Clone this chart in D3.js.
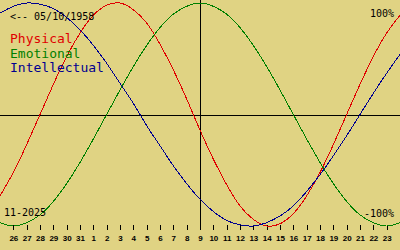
<!DOCTYPE html>
<html>
<head>
<meta charset="utf-8">
<script src="https://cdn.jsdelivr.net/npm/d3@7"></script>
<style>
  html, body { margin: 0; padding: 0; background: #e0d383; }
  svg { display: block; }
</style>
</head>
<body>
<script>
// SVG size
var svgWidth = 400;
var svgHeight = 250;

// Day labels, one extra day at each edge (Oct 25 .. Nov 24)
var dayLabels = ["25", "26", "27", "28", "29", "30", "31",
  "1", "2", "3", "4", "5", "6", "7", "8", "9", "10", "11", "12",
  "13", "14", "15", "16", "17", "18", "19", "20", "21", "22", "23", "24"];

// Index of the marked day (9)
var todayIndex = 15;

// Cycle values, -1 .. 1
var physical = [-0.73, -0.52, -0.27, 0.00, 0.27, 0.52, 0.73, 0.89, 0.98, 1.00,
  0.94, 0.82, 0.63, 0.40, 0.14, -0.14, -0.40, -0.63, -0.82, -0.94, -1.00,
  -0.98, -0.89, -0.73, -0.52, -0.27, 0.00, 0.27, 0.52, 0.73, 0.89];
var emotional = [-0.97, -1.00, -0.97, -0.90, -0.78, -0.62, -0.43, -0.22, 0.00,
  0.22, 0.43, 0.62, 0.78, 0.90, 0.97, 1.00, 0.97, 0.90, 0.78, 0.62, 0.43,
  0.22, 0.00, -0.22, -0.43, -0.62, -0.78, -0.90, -0.97, -1.00, -0.97];
var intellectual = [0.91, 0.97, 1.00, 0.99, 0.95, 0.87, 0.76, 0.62, 0.46, 0.28,
  0.10, -0.10, -0.28, -0.46, -0.62, -0.76, -0.87, -0.95, -0.99, -1.00, -0.97,
  -0.91, -0.82, -0.69, -0.54, -0.37, -0.19, 0.00, 0.19, 0.37, 0.54];

var seriesNames = ["Physical", "Emotional", "Intellectual"];
var seriesColors = ["#e00000", "#008000", "#000090"];
var series = [physical, emotional, intellectual];

var svg = d3.select("body")
  .append("svg")
  .attr("width", svgWidth)
  .attr("height", svgHeight);

// Scales
var xScale = d3.scaleLinear()
  .domain([0, dayLabels.length - 1])
  .range([0, svgWidth]);

var yScale = d3.scaleLinear()
  .domain([-1, 1])
  .range([226, 3]);

var px = function(v) { return Math.round(v) + 0.5; };

// Zero line
svg.append("line")
  .attr("x1", 0)
  .attr("x2", svgWidth)
  .attr("y1", px(yScale(0)))
  .attr("y2", px(yScale(0)))
  .attr("stroke", "#000")
  .attr("shape-rendering", "crispEdges");

// Today line
svg.append("line")
  .attr("x1", px(xScale(todayIndex)))
  .attr("x2", px(xScale(todayIndex)))
  .attr("y1", 0)
  .attr("y2", 230)
  .attr("stroke", "#000")
  .attr("shape-rendering", "crispEdges");

// Day ticks and labels (skip the edge days)
var tickDays = d3.range(1, dayLabels.length - 1);

svg.selectAll(".tick")
  .data(tickDays)
  .enter()
  .append("line")
  .attr("class", "tick")
  .attr("x1", d => px(xScale(d)))
  .attr("x2", d => px(xScale(d)))
  .attr("y1", 225)
  .attr("y2", 230)
  .attr("stroke", "#000")
  .attr("shape-rendering", "crispEdges");

svg.selectAll(".daylabel")
  .data(tickDays)
  .enter()
  .append("text")
  .attr("class", "daylabel")
  .attr("x", d => xScale(d) + 0.5)
  .attr("y", 241)
  .attr("text-anchor", "middle")
  .attr("font-family", "Liberation Sans, Arial, sans-serif")
  .attr("font-weight", "bold")
  .attr("font-size", 8)
  .attr("fill", "#000")
  .text(d => dayLabels[d]);

// Cycle curves
var line = d3.line()
  .x((d, i) => xScale(i))
  .y(d => yScale(d))
  .curve(d3.curveNatural);

svg.selectAll(".cycle")
  .data(series)
  .enter()
  .append("path")
  .attr("class", "cycle")
  .attr("d", line)
  .attr("fill", "none")
  .attr("stroke", (d, i) => seriesColors[i])
  .attr("stroke-width", 1)
  .attr("shape-rendering", "crispEdges");

// Texts
var mono = "DejaVu Sans Mono, monospace";

svg.append("text")
  .attr("x", 10)
  .attr("y", 20)
  .attr("font-family", mono)
  .attr("font-size", 10)
  .attr("fill", "#000")
  .text("<-- 05/10/1958");

svg.selectAll(".legend")
  .data(seriesNames)
  .enter()
  .append("text")
  .attr("class", "legend")
  .attr("x", 10)
  .attr("y", (d, i) => 43 + i * 14.6)
  .attr("font-family", mono)
  .attr("font-size", 13)
  .attr("fill", (d, i) => seriesColors[i])
  .text(d => d);

svg.append("text")
  .attr("x", 394)
  .attr("y", 16.5)
  .attr("text-anchor", "end")
  .attr("font-family", mono)
  .attr("font-size", 10)
  .attr("fill", "#000")
  .text("100%");

svg.append("text")
  .attr("x", 394)
  .attr("y", 216.5)
  .attr("text-anchor", "end")
  .attr("font-family", mono)
  .attr("font-size", 10)
  .attr("fill", "#000")
  .text("-100%");

svg.append("text")
  .attr("x", 4)
  .attr("y", 216)
  .attr("font-family", mono)
  .attr("font-size", 10)
  .attr("fill", "#000")
  .text("11-2025");
</script>
</body>
</html>
